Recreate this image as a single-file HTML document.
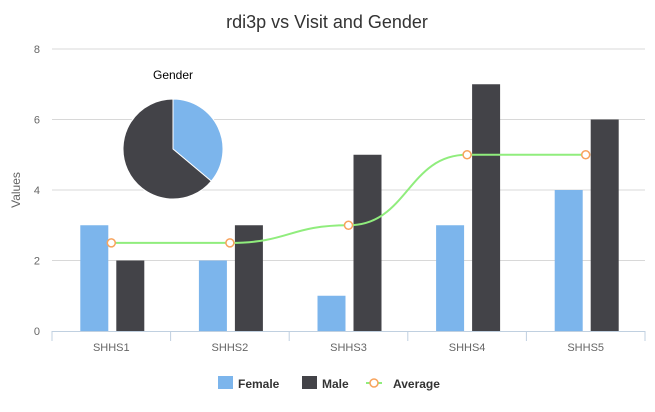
<!DOCTYPE html>
<html><head><meta charset="utf-8"><style>
body{margin:0;background:#fff;font-family:"Liberation Sans",sans-serif}
svg text{font-family:"Liberation Sans",sans-serif}
</style></head><body>
<svg id="c" width="655" height="407">
<text x="327" y="28" text-anchor="middle" font-size="18" fill="#333">rdi3p vs Visit and Gender</text>
<text transform="translate(20,190) rotate(-90)" text-anchor="middle" font-size="12" fill="#666">Values</text>
<g id="grid"></g><g id="bars"></g><g id="line"></g><g id="pie"></g>
<g>
<rect x="218" y="376" width="15" height="13" fill="#7cb5ec"/>
<text x="238" y="388" font-size="12" font-weight="bold" fill="#333">Female</text>
<rect x="302" y="376" width="15" height="13" fill="#434348"/>
<text x="322" y="388" font-size="12" font-weight="bold" fill="#333">Male</text>
<line x1="366" y1="383" x2="382" y2="383" stroke="#90ed7d" stroke-width="2"/>
<circle cx="374" cy="383" r="4" fill="#fff" stroke="#f7a35c" stroke-width="1.5"/>
<text x="393" y="388" font-size="12" font-weight="bold" fill="#333">Average</text>
</g>
</svg>
<script>
const categories=["SHHS1","SHHS2","SHHS3","SHHS4","SHHS5"];
const female=[3,2,1,3,4];
const male=[2,3,5,7,6];
const average=[2.5,2.5,3,5,5];
const yTicks=[0,2,4,6,8];
const pieLabels=["Female","Male"];
const pieValues=[13,23];
const NS="http://www.w3.org/2000/svg";
const X0=52,X1=645,Y0=331,Y1=49,YMAX=8;
const cw=(X1-X0)/categories.length;
const y=v=>Y0-(v/YMAX)*(Y0-Y1);
const cx=i=>X0+cw*(i+0.5);
function mk(p,t,a){const e=document.createElementNS(NS,t);for(const k in a)e.setAttribute(k,a[k]);p.appendChild(e);return e;}
const g=document.getElementById('grid');
yTicks.forEach(t=>{
 if(t>0){const l=mk(g,'line',{x1:X0,x2:X1,y1:y(t),y2:y(t),stroke:'#d8d8d8'});
 
 }
 const tx=mk(g,'text',{x:40,y:y(t)+4,'text-anchor':'end','font-size':11,fill:'#666'});tx.textContent=t;
 
 
});
const ax=mk(g,'line',{x1:X0,x2:X1,y1:Y0+0.5,y2:Y0+0.5,stroke:'#c0d0e0'});


for(let i=0;i<=categories.length;i++){const tk=mk(g,'line',{x1:X0+cw*i,x2:X0+cw*i,y1:Y0,y2:Y0+10,stroke:'#c0d0e0'});
 
 }
categories.forEach((c,i)=>{const tx=mk(g,'text',{x:cx(i),y:Y0+20,'text-anchor':'middle','font-size':11,fill:'#666'});tx.textContent=c;
 
 });
const b=document.getElementById('bars');
categories.forEach((c,i)=>{
 const r1=mk(b,'rect',{x:cx(i)-31,y:y(female[i]),width:28,height:Y0-y(female[i]),fill:'#7cb5ec'});
 
 
 const r2=mk(b,'rect',{x:cx(i)+5,y:y(male[i]),width:28,height:Y0-y(male[i]),fill:'#434348'});
 
 
});
const lg=document.getElementById('line');
let d=`M${cx(0)},${y(average[0])}`;
for(let i=1;i<average.length;i++){const a=cx(i-1),bx=cx(i),h=(bx-a)/2;d+=` C${a+h},${y(average[i-1])} ${bx-h},${y(average[i])} ${bx},${y(average[i])}`;}
const p=mk(lg,'path',{d:d,fill:'none',stroke:'#90ed7d','stroke-width':2});


average.forEach((v,i)=>{const m=mk(lg,'circle',{cx:cx(i),cy:y(v),r:4,fill:'#fff',stroke:'#f7a35c','stroke-width':1.5});
 
 });
const pg=document.getElementById('pie');
const PX=173,PY=149,R=50;
const pt=mk(pg,'text',{x:PX,y:79,'text-anchor':'middle','font-size':12,fill:'#000'});pt.textContent='Gender';


const tot=pieValues.reduce((a,b)=>a+b,0);let ang=-Math.PI/2;const cols=['#7cb5ec','#434348'];
pieValues.forEach((v,i)=>{const a2=ang+v/tot*2*Math.PI;const large=(a2-ang)>Math.PI?1:0;
 const s=mk(pg,'path',{d:`M${PX},${PY} L${PX+R*Math.cos(ang)},${PY+R*Math.sin(ang)} A${R},${R} 0 ${large} 1 ${PX+R*Math.cos(a2)},${PY+R*Math.sin(a2)} Z`,fill:cols[i],stroke:'#fff','stroke-width':1});
 
 
 ang=a2;});
</script>
</body></html>
